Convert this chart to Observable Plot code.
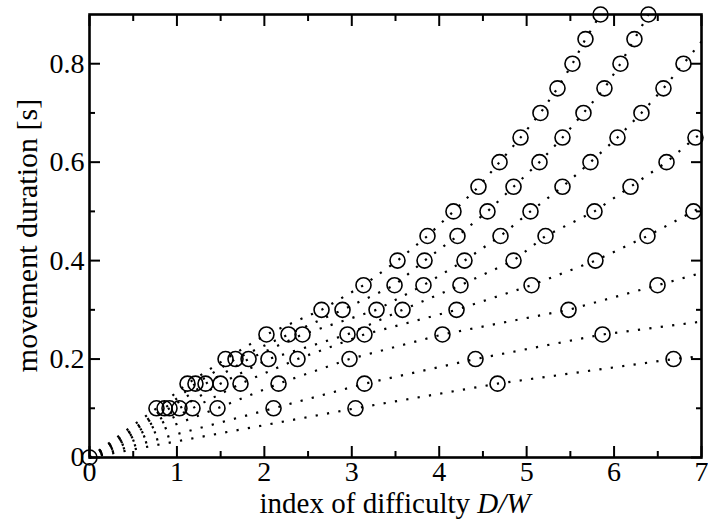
<!DOCTYPE html>
<html>
<head>
<meta charset="utf-8">
<script src="https://cdn.jsdelivr.net/npm/d3@7"></script>
<script src="https://cdn.jsdelivr.net/npm/@observablehq/plot@0.6"></script>
<style>
  html, body { margin: 0; padding: 0; background: #fff; }
  #chart svg { display: block; }
</style>
</head>
<body>
<div id="chart"></div>
<script>
// y levels (movement duration, s) at which circles sit, shared by all series
const yLevels = [0.1, 0.15, 0.2, 0.25, 0.3, 0.35, 0.4, 0.45, 0.5, 0.55, 0.6, 0.65, 0.7, 0.75, 0.8, 0.85, 0.9];

// index of difficulty of each circle, per series (steepest first)
const series1X = [0.766, 1.121, 1.556, 2.024, 2.654, 3.134, 3.523, 3.866, 4.163, 4.449, 4.690, 4.930, 5.158, 5.353, 5.524, 5.673, 5.845];
const series2X = [0.858, 1.212, 1.670, 2.276, 2.894, 3.489, 3.832, 4.209, 4.552, 4.850, 5.147, 5.410, 5.650, 5.890, 6.073, 6.233, 6.393];
const series3X = [0.915, 1.327, 1.819, 2.436, 3.283, 3.820, 4.289, 4.701, 5.044, 5.410, 5.730, 6.039, 6.313, 6.565, 6.794];
const series4X = [1.029, 1.498, 2.047, 2.951, 3.580, 4.243, 4.850, 5.216, 5.776, 6.188, 6.600, 6.931];
const series5X = [1.178, 1.727, 2.379, 3.145, 4.198, 5.056, 5.787, 6.382, 6.908];
const series6X = [1.464, 2.162, 2.974, 4.037, 5.479, 6.497];
const series7X = [2.105, 3.145, 4.415, 5.868];
const series8X = [3.042, 4.667, 6.680];

// where each dotted line leaves the frame (null: ends on its last circle)
const lineEndX = [null, null, 7, 7, 7, 7, 7, 7];
const lineEndY = [null, null, 0.845, 0.659, 0.509, 0.375, 0.276, 0.206];

// axis ticks
const xMajor = [0, 1, 2, 3, 4, 5, 6, 7];
const xMinor = [0.5, 1.5, 2.5, 3.5, 4.5, 5.5, 6.5];
const yMajor = [0, 0.2, 0.4, 0.6, 0.8];
const yMinor = [0.1, 0.3, 0.5, 0.7];

const xTitle = "index of difficulty ";
const xTitleItalic = "D/W";
const yTitle = "movement duration [s]";

const allSeries = [series1X, series2X, series3X, series4X, series5X, series6X, series7X, series8X];

const linePts = [];
const circlePts = [{x: 0, y: 0}];
allSeries.forEach((xs, i) => {
  linePts.push({s: i, x: 0, y: 0});
  xs.forEach((x, j) => {
    linePts.push({s: i, x, y: yLevels[j]});
    circlePts.push({x, y: yLevels[j]});
  });
  if (lineEndX[i] != null) linePts.push({s: i, x: lineEndX[i], y: lineEndY[i]});
});

const W = 708, H = 519;
const mL = 89, mR = 7, mT = 14, mB = 62;
const font = "'Liberation Serif', 'Times New Roman', serif";

// tick-only axes: no text mark (fill none), no label
const tickOnly = {fill: "none", label: null, strokeWidth: 2};

const plot = Plot.plot({
  width: W,
  height: H,
  marginLeft: mL,
  marginRight: mR,
  marginTop: mT,
  marginBottom: mB,
  style: {fontFamily: font, fontSize: "28px", background: "#fff", color: "#000"},
  x: {domain: [0, 7], axis: null},
  y: {domain: [0, 0.9], axis: null},
  marks: [
    Plot.line(linePts, {x: "x", y: "y", z: "s", stroke: "#000", strokeWidth: 2.2, strokeDasharray: "2.2,9.3", strokeLinecap: "butt"}),
    Plot.dot(circlePts, {x: "x", y: "y", r: 7.5, stroke: "#000", strokeWidth: 1.6, fill: "none"}),
    // inward ticks, four sides
    Plot.axisX(xMajor, {anchor: "bottom", tickSize: -11, ...tickOnly}),
    Plot.axisX(xMinor, {anchor: "bottom", tickSize: -6, ...tickOnly}),
    Plot.axisX(xMajor, {anchor: "top", tickSize: -11, ...tickOnly}),
    Plot.axisX(xMinor, {anchor: "top", tickSize: -6, ...tickOnly}),
    Plot.axisY(yMajor, {anchor: "left", tickSize: -11, ...tickOnly}),
    Plot.axisY(yMinor, {anchor: "left", tickSize: -6, ...tickOnly}),
    Plot.axisY(yMajor, {anchor: "right", tickSize: -11, ...tickOnly}),
    Plot.axisY(yMinor, {anchor: "right", tickSize: -6, ...tickOnly}),
    // tick labels
    Plot.axisX(xMajor, {anchor: "bottom", tickSize: 0, tickPadding: 4, label: null, fontSize: 28}),
    Plot.axisY(yMajor, {anchor: "left", tickSize: 0, tickPadding: 5, label: null, fontSize: 28,
      tickFormat: d => d === 0 ? "0" : d3.format(".1f")(d)}),
    Plot.frame({stroke: "#000", strokeWidth: 2.6})
  ]
});

const svg = d3.select(plot);
// x-axis title with italic D/W
const xt = svg.append("text")
  .attr("x", (mL + W - mR) / 2)
  .attr("y", 513)
  .attr("text-anchor", "middle")
  .attr("font-family", font)
  .attr("font-size", 29)
  .attr("fill", "#000");
xt.append("tspan").text(xTitle);
xt.append("tspan").attr("font-style", "italic").text(xTitleItalic);

// y-axis title
svg.append("text")
  .attr("transform", `translate(37,${(mT + H - mB) / 2}) rotate(-90)`)
  .attr("text-anchor", "middle")
  .attr("font-family", font)
  .attr("font-size", 30)
  .attr("fill", "#000")
  .text(yTitle);

document.getElementById("chart").appendChild(plot);
</script>
</body>
</html>
